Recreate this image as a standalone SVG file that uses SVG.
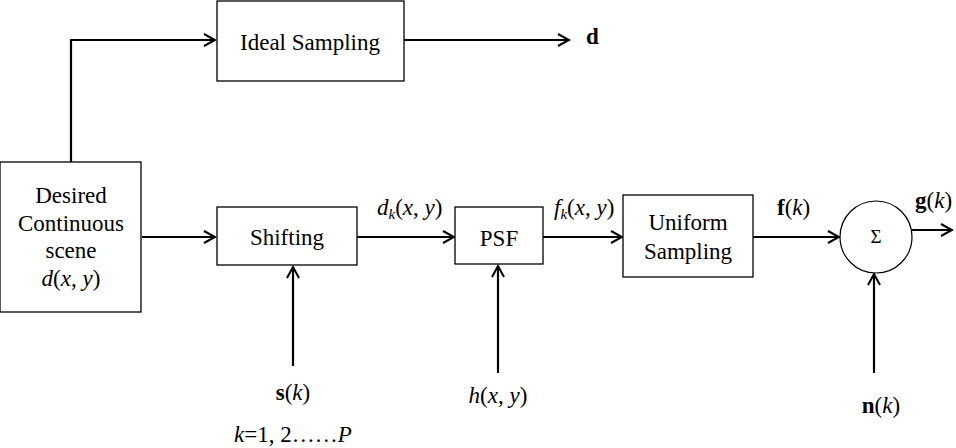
<svg xmlns="http://www.w3.org/2000/svg" width="956" height="448" viewBox="0 0 956 448" font-family="Liberation Serif" font-size="23">
<defs>
<marker id="ah" markerWidth="14" markerHeight="14" refX="12" refY="7" orient="auto" markerUnits="userSpaceOnUse">
<path d="M1,1 L12,7 L1,13" fill="none" stroke="#000" stroke-width="2"/>
</marker>
<style>
.box{fill:#fff;stroke:#000;stroke-width:1.3}
.ln{fill:none;stroke:#000;stroke-width:2.2;marker-end:url(#ah)}
.c{text-anchor:middle}
.i{font-style:italic}
.b{font-weight:bold}
</style>
</defs>
<rect width="956" height="448" fill="#fff"/>
<g id="connectors">
<path class="ln" d="M71,162 V40 H215"/>
<path class="ln" d="M404,40 H569"/>
<path class="ln" d="M142,237 H215"/>
<path class="ln" d="M357,237 H454"/>
<path class="ln" d="M543,237 H622"/>
<path class="ln" d="M753,237 H839"/>
<path class="ln" d="M912,230 H952"/>
<path class="ln" d="M293,366 V267"/>
<path class="ln" d="M498,373 V266"/>
<path class="ln" d="M874,373 V274"/>
</g>
<g id="ideal">
<rect class="box" x="217" y="1" width="187" height="80"/>
<text class="c" x="310" y="50" font-family="Liberation Serif">Ideal Sampling</text>
</g>
<g id="out-d"><text class="b" x="586" y="44" font-family="Liberation Serif">d</text></g>
<g id="scene" font-family="Liberation Serif">
<rect class="box" x="0" y="162" width="141" height="150"/>
<text class="c" x="71" y="203">Desired</text>
<text class="c" x="71" y="231">Continuous</text>
<text class="c" x="71" y="258">scene</text>
<text class="c" x="71" y="286"><tspan class="i">d</tspan>(<tspan class="i">x</tspan>, <tspan class="i">y</tspan>)</text>
</g>
<g id="shifting" font-family="Liberation Serif">
<rect class="box" x="217" y="207" width="140" height="58"/>
<text class="c" x="287" y="245">Shifting</text>
</g>
<g id="lbl-dk" font-family="Liberation Serif"><text x="377" y="215"><tspan class="i">d</tspan><tspan class="i" font-size="15" dy="4">k</tspan><tspan dy="-4">(</tspan><tspan class="i">x</tspan>, <tspan class="i">y</tspan>)</text></g>
<g id="psf" font-family="Liberation Serif">
<rect class="box" x="455" y="207" width="88" height="57"/>
<text class="c" x="499" y="246">PSF</text>
</g>
<g id="lbl-fk" font-family="Liberation Serif"><text x="554" y="215"><tspan class="i">f</tspan><tspan class="i" font-size="15" dy="4">k</tspan><tspan dy="-4">(</tspan><tspan class="i">x</tspan>, <tspan class="i">y</tspan>)</text></g>
<g id="uniform" font-family="Liberation Serif">
<rect class="box" x="623" y="195" width="130" height="82"/>
<text class="c" x="688" y="230">Uniform</text>
<text class="c" x="688" y="259">Sampling</text>
</g>
<g id="lbl-f" font-family="Liberation Serif"><text x="777" y="215"><tspan class="b">f</tspan>(<tspan class="i">k</tspan>)</text></g>
<g id="sum" font-family="Liberation Serif">
<circle cx="876" cy="237" r="36" fill="#fff" stroke="#000" stroke-width="1.2"/>
<text class="c" x="876" y="243" font-size="19">Σ</text>
</g>
<g id="lbl-g" font-family="Liberation Serif"><text x="915" y="208"><tspan class="b">g</tspan>(<tspan class="i">k</tspan>)</text></g>
<g id="lbl-s" font-family="Liberation Serif"><text class="c" x="293" y="400"><tspan class="b">s</tspan>(<tspan class="i">k</tspan>)</text></g>
<g id="lbl-k" font-family="Liberation Serif"><text x="234" y="442"><tspan class="i">k</tspan>=1, 2……<tspan class="i">P</tspan></text></g>
<g id="lbl-h" font-family="Liberation Serif"><text class="c" x="498" y="403"><tspan class="i">h</tspan>(<tspan class="i">x</tspan>, <tspan class="i">y</tspan>)</text></g>
<g id="lbl-n" font-family="Liberation Serif"><text class="c" x="881" y="413"><tspan class="b">n</tspan>(<tspan class="i">k</tspan>)</text></g>
</svg>
